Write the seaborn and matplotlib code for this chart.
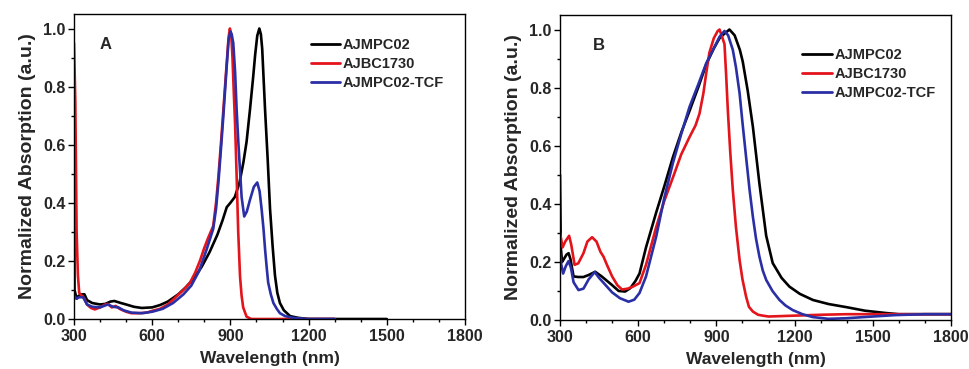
import numpy as np
import pandas as pd
import matplotlib
matplotlib.use("Agg")
import matplotlib.pyplot as plt
import seaborn as sns
from matplotlib.ticker import MultipleLocator

# ---------------- data ----------------
series_names = ["AJMPC02", "AJBC1730", "AJMPC02-TCF"]
colors = ["#000000", "#e3141b", "#2b2fa5"]

# Panel A
a_black_wl = [300, 302, 310, 318, 330, 340, 350, 370, 400, 420, 440, 455, 480, 500, 530, 560, 600, 630, 660,
              700, 730, 760, 790, 820, 850, 870, 886, 900, 917, 935, 950, 962, 975, 987, 995, 1003, 1011, 1017,
              1022, 1033, 1043, 1052, 1062, 1071, 1080, 1090, 1105, 1129, 1160, 1200, 1300, 1500]
a_black_ab = [0.66, 0.10, 0.07, 0.08, 0.085, 0.085, 0.065, 0.055, 0.05, 0.052, 0.06, 0.062, 0.055, 0.05, 0.042,
              0.038, 0.04, 0.048, 0.06, 0.085, 0.11, 0.14, 0.18, 0.23, 0.29, 0.34, 0.385, 0.40, 0.42, 0.47,
              0.54, 0.61, 0.72, 0.83, 0.91, 0.975, 1.0, 0.98, 0.93, 0.72, 0.55, 0.38, 0.25, 0.15, 0.09, 0.055,
              0.03, 0.01, 0.004, 0.0, 0.0, 0.0]

a_red_wl = [300, 305, 310, 315, 320, 330, 340, 350, 365, 380, 400, 420, 430, 445, 460, 475, 500, 520, 550, 580,
            600, 630, 660, 690, 720, 745, 765, 783, 800, 815, 834, 845, 854, 865, 873, 885, 893, 898, 903, 908,
            913, 918, 924, 930, 937, 943, 949, 962, 980, 1300]
a_red_ab = [0.95, 0.75, 0.30, 0.15, 0.09, 0.08, 0.07, 0.05, 0.038, 0.033, 0.04, 0.05, 0.052, 0.04, 0.045, 0.035,
            0.025, 0.02, 0.02, 0.022, 0.028, 0.035, 0.05, 0.075, 0.10, 0.125, 0.16, 0.20, 0.245, 0.28, 0.32,
            0.40, 0.49, 0.62, 0.72, 0.87, 0.97, 1.0, 0.98, 0.90, 0.78, 0.67, 0.49, 0.30, 0.146, 0.08, 0.04,
            0.008, 0.0, 0.0]

a_blue_wl = [300, 310, 320, 335, 350, 370, 400, 430, 450, 470, 490, 520, 560, 600, 640, 680, 720, 750, 780, 809,
             834, 845, 854, 865, 873, 885, 893, 900, 905, 911, 918, 924, 931, 937, 943, 953, 963, 975, 990,
             1003, 1012, 1020, 1027, 1033, 1040, 1045, 1055, 1065, 1078, 1090, 1110, 1140, 1200, 1300]
a_blue_ab = [0.08, 0.07, 0.075, 0.075, 0.05, 0.042, 0.04, 0.05, 0.042, 0.04, 0.03, 0.022, 0.02, 0.025, 0.035,
             0.055, 0.085, 0.115, 0.165, 0.24, 0.31, 0.38, 0.47, 0.60, 0.70, 0.86, 0.96, 0.99, 0.98, 0.95,
             0.85, 0.72, 0.60, 0.51, 0.42, 0.353, 0.37, 0.41, 0.455, 0.47, 0.44, 0.376, 0.31, 0.24, 0.17,
             0.125, 0.085, 0.055, 0.035, 0.02, 0.01, 0.004, 0.0, 0.0]

# Panel B
b_black_wl = [300, 303, 308, 315, 325, 333, 340, 352, 370, 390, 410, 435, 460, 480, 500, 525, 550, 570, 590, 605,
              630, 669, 700, 733, 765, 797, 830, 861, 890, 912, 930, 950, 970, 990, 1001, 1020, 1040, 1065,
              1091, 1116, 1150, 1180, 1220, 1270, 1330, 1400, 1470, 1550, 1600, 1700, 1800]
b_black_ab = [0.50, 0.25, 0.20, 0.21, 0.225, 0.23, 0.21, 0.15, 0.148, 0.148, 0.155, 0.166, 0.15, 0.135, 0.12,
              0.10, 0.098, 0.11, 0.135, 0.16, 0.25, 0.37, 0.46, 0.56, 0.645, 0.72, 0.80, 0.88, 0.935, 0.97,
              0.985, 1.0, 0.98, 0.93, 0.89, 0.79, 0.665, 0.47, 0.29, 0.196, 0.145, 0.115, 0.09, 0.069, 0.055,
              0.044, 0.032, 0.024, 0.02, 0.02, 0.02]

b_red_wl = [300, 310, 320, 335, 343, 356, 370, 390, 405, 423, 440, 455, 467, 480, 500, 520, 538, 560, 580, 605,
            630, 669, 700, 733, 765, 797, 820, 835, 850, 861, 873, 890, 905, 912, 920, 931, 937, 944, 953, 963,
            975, 989, 1000, 1014, 1025, 1040, 1060, 1078, 1100, 1200, 1300, 1400, 1600, 1800]
b_red_ab = [0.30, 0.25, 0.27, 0.29, 0.26, 0.19, 0.195, 0.23, 0.27, 0.285, 0.27, 0.235, 0.218, 0.19, 0.15, 0.12,
            0.105, 0.108, 0.115, 0.127, 0.19, 0.32, 0.41, 0.49, 0.57, 0.63, 0.67, 0.71, 0.78, 0.85, 0.92, 0.97,
            0.995, 1.0, 0.98, 0.95, 0.85, 0.72, 0.58, 0.447, 0.32, 0.206, 0.14, 0.08, 0.045, 0.029, 0.018,
            0.015, 0.012, 0.015, 0.018, 0.02, 0.02, 0.02]

b_blue_wl = [300, 305, 312, 322, 333, 342, 352, 371, 390, 410, 433, 450, 470, 500, 530, 563, 585, 605, 630, 669,
             700, 733, 765, 797, 830, 861, 890, 912, 931, 945, 963, 975, 989, 1000, 1014, 1027, 1040, 1052, 1065,
             1078, 1091, 1115, 1142, 1165, 1193, 1230, 1270, 1330, 1397, 1500, 1589, 1700, 1800]
b_blue_ab = [0.23, 0.19, 0.16, 0.185, 0.203, 0.18, 0.13, 0.103, 0.108, 0.14, 0.165, 0.145, 0.125, 0.095, 0.075,
             0.063, 0.07, 0.093, 0.15, 0.287, 0.42, 0.54, 0.64, 0.734, 0.81, 0.884, 0.935, 0.975, 0.995, 0.98,
             0.93, 0.87, 0.78, 0.68, 0.56, 0.45, 0.355, 0.28, 0.218, 0.17, 0.138, 0.10, 0.069, 0.05, 0.034,
             0.02, 0.01, 0.004, 0.006, 0.012, 0.017, 0.02, 0.02]

x_ticks = [300, 600, 900, 1200, 1500, 1800]
y_ticks = [0.0, 0.2, 0.4, 0.6, 0.8, 1.0]


def long_frame(wls, abss):
    parts = []
    for name, w, a in zip(series_names, wls, abss):
        parts.append(pd.DataFrame({"wl": w, "ab": a, "sample": name}))
    return pd.concat(parts, ignore_index=True)


df_a = long_frame([a_black_wl, a_red_wl, a_blue_wl], [a_black_ab, a_red_ab, a_blue_ab])
df_b = long_frame([b_black_wl, b_red_wl, b_blue_wl], [b_black_ab, b_red_ab, b_blue_ab])

# ---------------- plotting ----------------
sns.set_theme(style="white")
plt.rcParams["font.family"] = ["Liberation Sans", "DejaVu Sans"]
plt.rcParams["font.weight"] = "bold"

fig = plt.figure(figsize=(9.69, 3.69), dpi=100)
ax_a = fig.add_axes([74 / 969, 50 / 369, 391 / 969, 305 / 369])
ax_b = fig.add_axes([560 / 969, 49 / 369, 391 / 969, 305 / 369])

palette = dict(zip(series_names, colors))

for ax, df, letter, letx, legpos in [(ax_a, df_a, "A", 0.065, (0.59, 0.94)),
                                     (ax_b, df_b, "B", 0.085, (0.605, 0.91))]:
    sns.lineplot(data=df, x="wl", y="ab", hue="sample", hue_order=series_names, palette=palette,
                 estimator=None, sort=False, linewidth=1.9, ax=ax)
    ax.set_xlim(300, 1800)
    ax.set_ylim(0, 1.05)
    ax.set_xticks(x_ticks)
    ax.set_yticks(y_ticks)
    ax.set_xticklabels([str(t) for t in x_ticks], fontsize=11.5, fontweight="bold")
    ax.set_yticklabels([f"{t:.1f}" for t in y_ticks], fontsize=11.5, fontweight="bold")
    ax.xaxis.set_minor_locator(MultipleLocator(100))
    ax.yaxis.set_minor_locator(MultipleLocator(0.1))
    ax.tick_params(which="major", direction="out", length=4, width=1, color="black",
                   bottom=True, left=True, pad=2)
    ax.tick_params(axis="x", which="major", pad=3)
    ax.tick_params(which="minor", direction="out", length=2.5, width=1, color="black",
                   bottom=True, left=True)
    for sp in ax.spines.values():
        sp.set_color("black")
        sp.set_linewidth(1.0)
    ax.set_xlabel("Wavelength (nm)", fontsize=12.5, fontweight="bold", labelpad=5)
    ax.set_ylabel("Normalized Absorption (a.u.)", fontsize=14, fontweight="bold", labelpad=5)
    ax.text(letx, 0.90, letter, transform=ax.transAxes, fontsize=12, fontweight="bold",
            ha="left", va="center")
    leg = ax.legend(loc="upper left", bbox_to_anchor=legpos, frameon=False, fontsize=10.5,
                    handlelength=2.0, handletextpad=0.2, labelspacing=0.35, borderaxespad=0)
    for t in leg.get_texts():
        t.set_fontweight("bold")
    for l in leg.get_lines():
        l.set_linewidth(2.0)

fig.savefig("out.png", dpi=100)
